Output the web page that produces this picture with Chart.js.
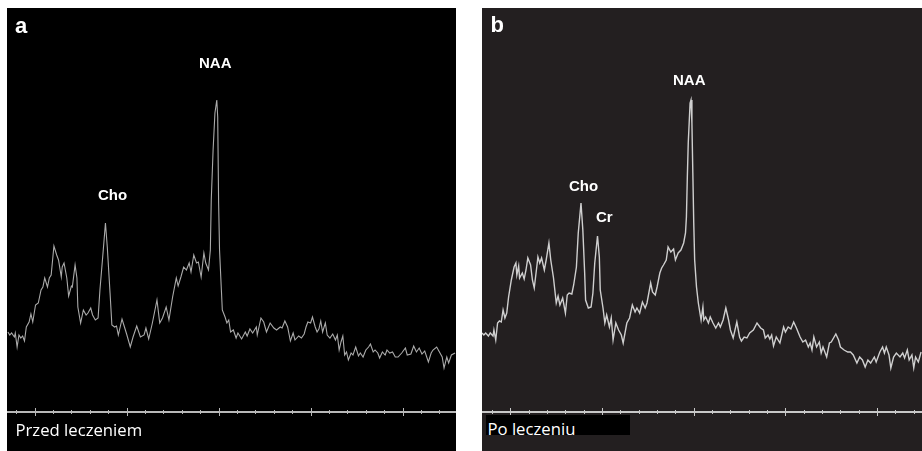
<!DOCTYPE html>
<html>
<head>
<meta charset="utf-8">
<script src="https://cdn.jsdelivr.net/npm/chart.js@4.4.1/dist/chart.umd.min.js"></script>
<style>
  body { margin: 0; background: #fff; width: 922px; height: 451px; position: relative; overflow: hidden; }
  .panel { position: absolute; top: 8px; height: 443px; }
  .panel canvas { position: absolute; left: 0; top: 0; }
  .lbl { position: absolute; color: #fff; font-family: "Liberation Sans", Arial, sans-serif; font-weight: bold; font-size: 15px; line-height: 15px; white-space: nowrap; }
  .letter { font-size: 22px; line-height: 22px; }
  .cap { position: absolute; color: #fff; font-family: "Open Sans", sans-serif; font-size: 16.7px; line-height: 16.7px; white-space: nowrap; }
  .capbox { position: absolute; left: 486px; top: 415px; width: 144px; height: 20px; background: #000; overflow: hidden; }
</style>
</head>
<body>
<div class="panel" style="left:7px;width:449px;background:#000;">
  <canvas id="chartA" width="449" height="443"></canvas>
</div>
<div class="panel" style="left:482px;width:440px;background:#231f20;">
  <canvas id="chartB" width="440" height="443"></canvas>
</div>

<div class="lbl letter" style="left:15px;top:14.7px;">a</div>
<div class="lbl" style="left:199px;top:55px;">NAA</div>
<div class="lbl" style="left:98px;top:187px;">Cho</div>
<div class="cap" style="left:15.5px;top:422.2px;">Przed leczeniem</div>

<div class="lbl letter" style="left:490.5px;top:14.4px;">b</div>
<div class="lbl" style="left:673px;top:72px;">NAA</div>
<div class="lbl" style="left:569px;top:178px;">Cho</div>
<div class="lbl" style="left:596px;top:209px;">Cr</div>
<div class="capbox"><div class="cap" style="left:1.5px;top:6.4px;">Po leczeniu</div></div>

<script>
// chemical shift (ppm) and signal height
const ppmA = [4.29,4.27,4.25,4.22,4.21,4.19,4.17,4.15,4.13,4.11,
  4.09,4.06,4.04,4.02,3.99,3.96,3.93,3.91,3.89,3.86,
  3.84,3.82,3.79,3.76,3.74,3.71,3.70,3.68,3.65,3.63,
  3.60,3.59,3.56,3.54,3.53,3.50,3.47,3.44,3.42,3.39,
  3.37,3.34,3.31,3.29,3.26,3.23,3.21,3.18,3.16,3.13,
  3.11,3.09,3.05,3.02,3.00,2.96,2.93,2.89,2.85,2.81,
  2.79,2.76,2.72,2.67,2.64,2.61,2.57,2.54,2.50,2.46,
  2.44,2.41,2.38,2.35,2.32,2.30,2.27,2.24,2.22,2.19,
  2.16,2.14,2.11,2.09,2.08,2.06,2.04,2.02,2.01,2.00,
  1.99,1.97,1.96,1.93,1.91,1.89,1.87,1.84,1.81,1.79,
  1.75,1.71,1.69,1.66,1.63,1.59,1.58,1.54,1.51,1.48,
  1.44,1.40,1.37,1.33,1.31,1.28,1.25,1.22,1.19,1.17,
  1.13,1.10,1.07,1.05,1.03,1.00,0.98,0.95,0.93,0.91,
  0.89,0.87,0.84,0.82,0.79,0.76,0.73,0.71,0.69,0.67,
  0.65,0.63,0.61,0.59,0.56,0.54,0.51,0.48,0.46,0.43,
  0.40,0.37,0.35,0.32,0.30,0.27,0.25,0.22,0.19,0.17,
  0.14,0.11,0.08,0.05,0.01,-0.03,-0.05,-0.09,-0.12,-0.15,
  -0.18,-0.21,-0.24,-0.28,-0.31,-0.33,-0.37,-0.40,-0.43,-0.45,
  -0.48,-0.50,-0.53,-0.57];
const signalA = [80,77,79,75,79,65,77,74,76,71,
  85,90,98,90,107,109,122,125,134,125,
  134,137,166,157,152,135,145,149,134,116,
  126,125,147,134,105,89,102,97,99,104,
  97,92,94,122,155,189,165,119,87,85,
  86,77,93,84,78,65,75,86,75,77,
  84,73,89,112,89,94,105,92,115,134,
  126,135,145,142,149,140,157,149,150,135,
  159,149,142,162,212,262,299,312,295,209,
  162,122,102,95,89,92,80,82,74,79,
  73,80,76,83,79,85,77,94,90,80,
  89,84,82,85,84,91,85,71,79,72,
  76,74,78,85,90,89,95,85,80,83,
  91,80,89,77,74,78,72,77,62,70,
  76,57,60,52,59,57,65,56,59,55,
  62,65,68,60,62,59,54,60,57,62,
  59,60,55,55,59,64,57,58,66,60,
  64,58,61,50,59,62,65,60,55,44,
  55,49,57,59];

const ppmB = [4.31,4.29,4.27,4.24,4.22,4.19,4.18,4.16,4.14,4.12,
  4.10,4.08,4.06,4.04,4.02,3.99,3.96,3.94,3.93,3.91,
  3.90,3.87,3.85,3.83,3.81,3.78,3.76,3.74,3.71,3.70,
  3.68,3.66,3.63,3.61,3.58,3.56,3.53,3.50,3.48,3.46,
  3.43,3.40,3.38,3.36,3.33,3.31,3.28,3.26,3.23,3.21,
  3.19,3.18,3.15,3.12,3.10,3.08,3.05,3.03,3.02,2.99,
  2.97,2.95,2.92,2.90,2.88,2.85,2.82,2.79,2.77,2.73,
  2.70,2.67,2.64,2.62,2.59,2.56,2.53,2.51,2.47,2.45,
  2.42,2.40,2.37,2.35,2.33,2.30,2.28,2.25,2.22,2.20,
  2.17,2.14,2.11,2.09,2.08,2.07,2.06,2.04,2.03,2.02,
  2.01,2.00,1.99,1.97,1.95,1.92,1.90,1.89,1.87,1.84,
  1.82,1.79,1.76,1.73,1.71,1.68,1.65,1.62,1.60,1.57,
  1.53,1.50,1.48,1.45,1.42,1.39,1.35,1.31,1.27,1.24,
  1.22,1.19,1.17,1.15,1.13,1.10,1.06,1.02,1.00,0.97,
  0.94,0.91,0.88,0.84,0.81,0.78,0.75,0.73,0.71,0.69,
  0.66,0.63,0.61,0.59,0.55,0.52,0.50,0.45,0.42,0.40,
  0.36,0.32,0.29,0.26,0.22,0.19,0.16,0.13,0.10,0.07,
  0.03,0.01,-0.03,-0.06,-0.08,-0.10,-0.13,-0.15,-0.18,-0.21,
  -0.25,-0.28,-0.30,-0.33,-0.35,-0.38,-0.40,-0.42,-0.45,-0.48];
const signalB = [79,77,79,76,79,76,82,72,89,91,
  90,102,94,99,115,132,145,149,137,146,
  134,139,133,142,154,147,132,124,147,155,
  149,154,142,152,169,152,134,109,116,107,
  114,99,117,119,118,127,145,179,209,182,
  139,112,104,105,119,149,176,155,122,104,
  89,97,85,94,72,89,82,77,69,89,
  94,107,100,104,99,110,104,109,129,120,
  117,125,139,144,147,152,165,160,163,152,
  159,162,169,179,195,235,269,309,312,289,
  239,189,152,125,109,92,105,92,95,89,
  95,89,84,89,85,92,104,92,82,74,
  90,75,71,75,74,79,82,89,84,82,
  74,77,73,77,66,75,69,85,80,85,
  83,90,84,75,70,72,65,69,62,75,
  65,70,59,65,55,69,70,78,72,65,
  62,60,60,57,49,55,52,45,52,49,
  55,50,60,65,59,65,57,44,55,59,
  55,59,54,62,52,57,44,55,50,60];

// ppm axis ticks
const majorTicks = [4, 3, 2, 1, 0];
const minorTicks = [4.2, 3.8, 3.6, 3.4, 3.2, 2.8, 2.6, 2.4, 2.2, 1.8, 1.6, 1.4, 1.2,
  0.8, 0.6, 0.4, 0.2, -0.2, -0.4];

// draws the baseline with small ticks crossing it
const ppmAxis = {
  id: "ppmAxis",
  afterDraw(chart, args, opts) {
    const { ctx, chartArea } = chart;
    const x = chart.scales.x;
    const y0 = chartArea.bottom;
    ctx.save();
    ctx.strokeStyle = opts.color;
    ctx.lineWidth = 2;
    ctx.beginPath();
    ctx.moveTo(0, y0);
    ctx.lineTo(chart.width, y0);
    ctx.stroke();
    ctx.lineWidth = 1;
    ctx.beginPath();
    minorTicks.forEach((v) => {
      const px = Math.round(x.getPixelForValue(v)) + 0.5;
      ctx.moveTo(px, y0 - 2);
      ctx.lineTo(px, y0 + 2);
    });
    majorTicks.forEach((v) => {
      const px = Math.round(x.getPixelForValue(v)) + 0.5;
      ctx.moveTo(px, y0 - 4);
      ctx.lineTo(px, y0 + 4);
    });
    ctx.stroke();
    ctx.restore();
  },
};

function makeSpectrum(id, ppm, signal, xMin, xMax, lineColor, lineWidth, axisColor) {
  const points = ppm.map((p, i) => ({ x: p, y: signal[i] }));
  return new Chart(document.getElementById(id), {
    type: "line",
    data: {
      datasets: [
        {
          data: points,
          borderColor: lineColor,
          borderWidth: lineWidth,
          pointRadius: 0,
          tension: 0,
          fill: false,
        },
      ],
    },
    options: {
      responsive: false,
      animation: false,
      devicePixelRatio: 1,
      events: [],
      layout: { padding: { left: 0, right: 0, top: 0, bottom: 39 } },
      scales: {
        x: { type: "linear", reverse: true, min: xMin, max: xMax, display: false },
        y: { min: 0, max: 404, display: false },
      },
      plugins: {
        legend: { display: false },
        tooltip: { enabled: false },
        ppmAxis: { color: axisColor },
      },
    },
    plugins: [ppmAxis],
  });
}

makeSpectrum("chartA", ppmA, signalA, -0.58, 4.30, "#aaaaaa", 1.1, "#b8b8b8");
makeSpectrum("chartB", ppmB, signalB, -0.49, 4.31, "#cfcfcf", 1.4, "#c8c8c8");
</script>
</body>
</html>
